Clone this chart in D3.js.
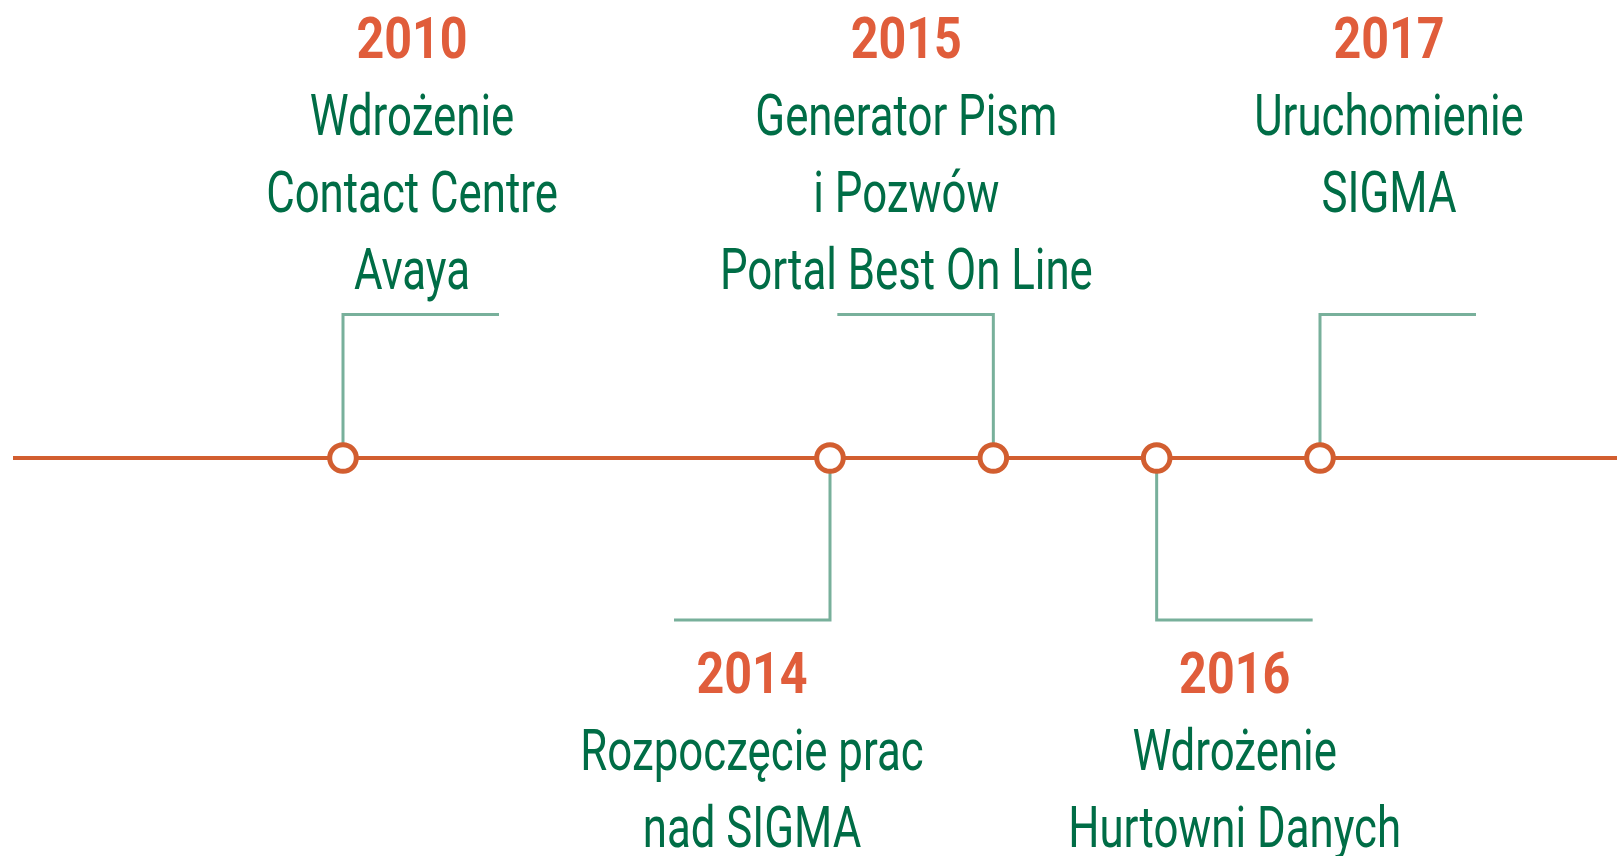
<!DOCTYPE html>
<html>
<head>
<meta charset="utf-8">
<script src="https://cdn.jsdelivr.net/npm/d3@7"></script>
<style>
  html, body { margin: 0; padding: 0; background: #fff; }
  svg { display: block; }
</style>
</head>
<body>
<div id="chart"></div>
<script>
// timeline data
const years = [2010, 2014, 2015, 2016, 2017]
const labels = [
  ["Wdrożenie", "Contact Centre", "Avaya"],
  ["Rozpoczęcie prac", "nad SIGMA"],
  ["Generator Pism", "i Pozwów", "Portal Best On Line"],
  ["Wdrożenie", "Hurtowni Danych"],
  ["Uruchomienie", "SIGMA"]
]
const sides = ["up", "down", "up", "down", "up"]
const leaderDir = [1, -1, -1, 1, 1]

const width = 1617
const height = 856
const axisY = 458
const upY = 314.5
const downY = 620
const leaderLen = 156
const lineGap = 77

const orange = "#d25e30"
const yearColor = "#e05d3b"
const teal = "#78b09b"
const green = "#006d46"

const svg = d3.select("#chart").append("svg")
  .attr("width", width)
  .attr("height", height)

// the timeline has a break between 2010 and 2014
const x = d3.scaleLinear().domain([2010, 2014, 2017]).range([343, 830, 1320])

// main line
svg.append("line")
  .attr("x1", 13).attr("x2", width)
  .attr("y1", axisY).attr("y2", axisY)
  .attr("stroke", orange)
  .attr("stroke-width", 4)

const events = years.map((y, i) => ({
  year: y, lines: labels[i], side: sides[i], dir: leaderDir[i]
}))

// leaders
svg.selectAll("path.leader")
  .data(events)
  .join("path")
  .attr("class", "leader")
  .attr("fill", "none")
  .attr("stroke", teal)
  .attr("stroke-width", 3)
  .attr("d", d => {
    let cx = x(d.year)
    let ey = d.side == "up" ? upY : downY
    return d3.line()([[cx, axisY], [cx, ey], [cx + d.dir * leaderLen, ey]])
  })

// circles
svg.selectAll("circle")
  .data(events)
  .join("circle")
  .attr("cx", d => x(d.year))
  .attr("cy", axisY)
  .attr("r", 13.3)
  .attr("fill", "#fff")
  .attr("stroke", orange)
  .attr("stroke-width", 5)

// labels
const g = svg.selectAll("g.label")
  .data(events)
  .join("g")
  .attr("class", "label")
  .attr("transform", d => {
    let cx = x(d.year) + d.dir * leaderLen / 2 + (d.side == "up" ? -9 : 0)
    let ty = d.side == "up" ? 58 : 693
    return "translate(" + cx + "," + ty + ")"
  })

g.append("text")
  .attr("text-anchor", "middle")
  .attr("transform", "scale(0.85,1)")
  .attr("font-family", "Roboto, sans-serif")
  .attr("font-weight", 700)
  .attr("font-size", 57)
  .attr("fill", yearColor)
  .text(d => d.year)

g.each(function (d) {
  d3.select(this).selectAll("text.desc")
    .data(d.lines)
    .join("text")
    .attr("class", "desc")
    .attr("text-anchor", "middle")
    .attr("transform", (t, i) => "translate(0," + (i + 1) * lineGap + ") scale(0.755,1)")
    .attr("font-family", "Roboto, sans-serif")
    .attr("font-weight", 400)
    .attr("font-size", 58)
    .attr("fill", green)
    .text(t => t)
})
</script>
</body>
</html>
